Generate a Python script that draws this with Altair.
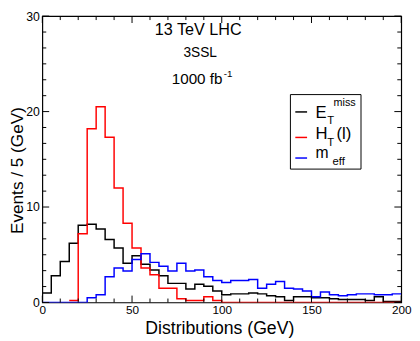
import altair as alt
import pandas as pd

FONT = "Liberation Sans"
W, H = 366, 292

# ---- data (events per 5 GeV bin, bins start at 0, 5, ..., 195) ----
bin_width = 5
edges = [bin_width * i for i in range(41)]

series_names = ["met", "ht", "meff"]
series_colors = ["#000000", "#ff0000", "#0000ff"]

met = [1.0, 2.8, 4.3, 6.2, 8.1, 8.2, 7.7, 6.6, 5.7, 4.1,
       4.9, 4.0, 3.4, 2.8, 2.0, 2.0, 1.4, 1.9, 1.7, 1.2,
       0.8, 0.9, 0.9, 1.0, 0.9, 0.7, 0.6, 0.2, 0.6, 0.6,
       0.5, 0.5, 0.4, 0.3, 0.3, 0.3, 0.2, 0.6, 0.1, 0.1]

ht = [None, None, None, 0.2, 7.2, 18.2, 20.5, 17.3, 12.0, 8.3,
      5.7, 3.6, 2.9, 1.5, 1.5, 0.4, 0.2, 0.2, 0.6, 0.2,
      0.0, 0.0, 0.0, 0.0, 0.0, 0.0, 0.0, 0.0, 0.0, 0.0,
      0.0, 0.0, 0.0, 0.0, 0.0, 0.0, 0.0, 0.0, 0.0, 0.0]

meff = [0.0, 0.0, 0.0, 0.0, 0.0, 0.5, 0.8, 2.7, 3.6, 3.3,
        4.5, 5.1, 4.2, 3.8, 3.3, 4.1, 3.3, 3.4, 2.7, 2.3,
        2.1, 2.3, 2.3, 2.4, 1.5, 1.9, 2.2, 1.5, 1.4, 1.2,
        0.6, 1.1, 0.8, 0.7, 0.8, 0.9, 0.9, 0.8, 0.8, 0.9]

x_major = [0, 50, 100, 150, 200]
x_minor = [10, 20, 30, 40, 60, 70, 80, 90, 110, 120, 130, 140,
           160, 170, 180, 190]
y_major = [0, 10, 20, 30]
y_minor = [i * 10 / 6 for i in range(19) if i % 6]

# ---- build table ----
rows = []
for name, vals in zip(series_names, [met, ht, meff]):
    for i, v in enumerate(vals):
        if v is None:
            continue
        rows.append({"series": name, "x": edges[i], "y": v})
    rows.append({"series": name, "x": edges[-1], "y": vals[-1]})
df = pd.DataFrame(rows)

xs = alt.Scale(domain=[0, 200], nice=False, zero=False)
ys = alt.Scale(domain=[0, 30], nice=False, zero=False)

x_axis = alt.Axis(values=x_major, title="Distributions (GeV)", ticks=False,
                  domain=False, grid=False, labelFontSize=12, labelPadding=2.5,
                  labelFont=FONT, labelColor="black", labelFlush=False,
                  titleFont=FONT, titleFontSize=18, titleFontWeight="normal",
                  titleColor="black", titleX=180.5, titleY=31.5,
                  titleAlign="center", titleBaseline="alphabetic")
y_axis = alt.Axis(values=y_major, title="Events / 5 (GeV)", ticks=False,
                  domain=False, grid=False, labelFontSize=12.5, labelPadding=3,
                  labelFont=FONT, labelColor="black", labelFlush=False,
                  titleFont=FONT, titleFontSize=17.5, titleFontWeight="normal",
                  titleColor="black", titleAngle=270, titleX=-20, titleY=157,
                  titleAlign="center", titleBaseline="alphabetic")


def hist(name, color):
    return alt.Chart(df).transform_filter(alt.datum.series == name).mark_line(
        interpolate="step-after", color=color, strokeWidth=1.5, clip=True
    ).encode(
        x=alt.X("x:Q", scale=xs, axis=x_axis),
        y=alt.Y("y:Q", scale=ys, axis=y_axis),
        order="x:Q",
    )


def xticks(vals, y0, y1):
    return alt.Chart(pd.DataFrame({"x": vals})).mark_rule(
        color="black", strokeWidth=1).encode(
        x=alt.X("x:Q", scale=xs, axis=x_axis), y=alt.value(y0), y2=alt.value(y1))


def yticks(vals, x0, x1):
    return alt.Chart(pd.DataFrame({"y": vals})).mark_rule(
        color="black", strokeWidth=1).encode(
        y=alt.Y("y:Q", scale=ys, axis=y_axis), x=alt.value(x0), x2=alt.value(x1))


def label(text, x, y, size, align="left"):
    return alt.Chart(alt.Data(values=[{}])).mark_text(
        text=text, align=align, baseline="alphabetic", fontSize=size,
        font=FONT, color="black").encode(x=alt.value(x), y=alt.value(y))


def sample(color, y):
    return alt.Chart(alt.Data(values=[{}])).mark_rule(
        color=color, strokeWidth=1.5).encode(
        x=alt.value(258), x2=alt.value(270), y=alt.value(y))


MAJ, MIN = 7, 4
layers = [
    hist("met", series_colors[0]),
    hist("ht", series_colors[1]),
    hist("meff", series_colors[2]),
    xticks(x_major, H, H - MAJ), xticks(x_minor, H, H - MIN),
    xticks(x_major, 0, MAJ), xticks(x_minor, 0, MIN),
    yticks(y_major, 0, MAJ), yticks(y_minor, 0, MIN),
    yticks(y_major, W, W - MAJ), yticks(y_minor, W, W - MIN),
    # legend box
    alt.Chart(alt.Data(values=[{}])).mark_rect(
        fill="white", stroke="black", strokeWidth=1).encode(
        x=alt.value(253), x2=alt.value(325), y=alt.value(80), y2=alt.value(156)),
    sample(series_colors[0], 97.7),
    sample(series_colors[1], 123.7),
    sample(series_colors[2], 144.7),
    label("E", 278.7, 104.3, 17), label("T", 290.5, 110.5, 11.5),
    label("miss", 297, 92, 11),
    label("H", 278.7, 125.3, 17), label("T", 290.5, 132, 11.5),
    label("(l)", 300, 125.3, 17),
    label("m", 278.7, 145, 16), label("eff", 296, 152, 11.5),
    # annotations
    label("13 TeV LHC", 159, 19, 16.5, "center"),
    label("3SSL", 161, 42, 14, "center"),
    label("1000 fb", 132, 69, 15.5), label("-1", 185, 62, 10),
]

chart = alt.layer(*layers).properties(
    width=W, height=H,
    padding={"left": 35, "top": 5, "right": 11, "bottom": 36},
    autosize=alt.AutoSizeParams(type="none"),
    background="white",
).configure_view(stroke="black", strokeWidth=1.2)

chart.save("out.html", embed_options={"renderer": "svg", "actions": False})
